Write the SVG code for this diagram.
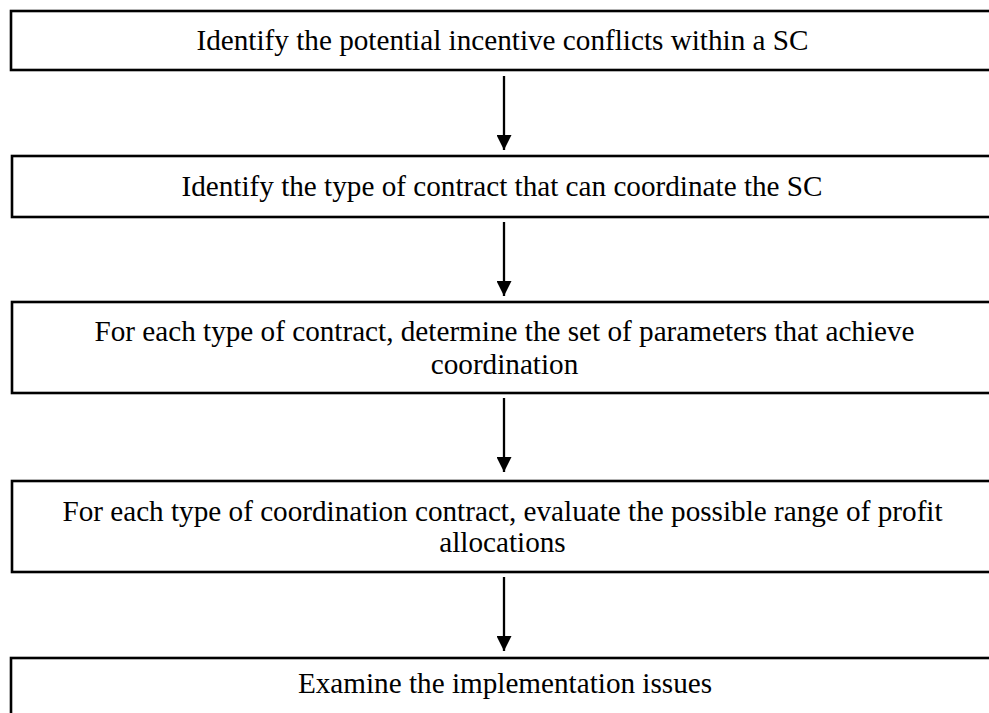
<svg xmlns="http://www.w3.org/2000/svg" width="989" height="713" viewBox="0 0 989 713">
  <defs>
    <style>
      .box { fill: #ffffff; stroke: #000000; stroke-width: 2.6; }
      .lbl { font-family: "Liberation Serif", "Times New Roman", serif; font-size: 29.2px; fill: #000000; text-anchor: middle; }
      .conn { stroke: #000000; stroke-width: 2.3; fill: none; marker-end: url(#ah); }
    </style>
    <marker id="ah" markerWidth="15" markerHeight="15" refX="15" refY="7.5" orient="auto" markerUnits="userSpaceOnUse" viewBox="0 0 15 15">
      <path d="M0,0 L15,7.5 L0,15 Z" fill="#000000"/>
    </marker>
  </defs>
  <rect width="989" height="713" fill="#ffffff"/>
  <g id="connectors">
    <line class="conn" x1="504" y1="76" x2="504" y2="150"/>
    <line class="conn" x1="504" y1="222" x2="504" y2="296"/>
    <line class="conn" x1="504" y1="398" x2="504" y2="472"/>
    <line class="conn" x1="504" y1="577" x2="504" y2="651"/>
  </g>
  <g id="node1">
    <rect class="box" x="11" y="11" width="1000" height="59"/>
    <text class="lbl" x="502.5" y="50">Identify the potential incentive conflicts within a SC</text>
  </g>
  <g id="node2">
    <rect class="box" x="12" y="156" width="1000" height="61"/>
    <text class="lbl" x="502" y="196">Identify the type of contract that can coordinate the SC</text>
  </g>
  <g id="node3">
    <rect class="box" x="12" y="302" width="1000" height="91"/>
    <text class="lbl" x="504.5" y="341">For each type of contract, determine the set of parameters that achieve</text>
    <text class="lbl" x="504.5" y="374">coordination</text>
  </g>
  <g id="node4">
    <rect class="box" x="12" y="481" width="1000" height="91"/>
    <text class="lbl" x="502.5" y="521">For each type of coordination contract, evaluate the possible range of profit</text>
    <text class="lbl" x="502.5" y="552">allocations</text>
  </g>
  <g id="node5">
    <rect class="box" x="11" y="658" width="1000" height="80"/>
    <text class="lbl" x="505" y="693">Examine the implementation issues</text>
  </g>
</svg>
